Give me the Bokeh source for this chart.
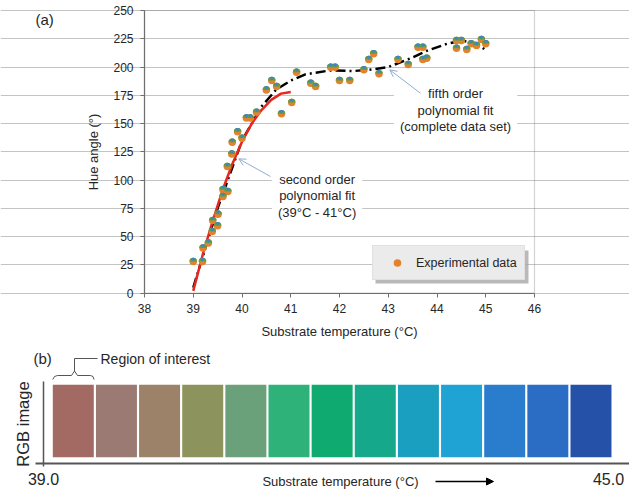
import numpy as np
from bokeh.plotting import figure
from bokeh.models import (Range1d, Label, Arrow, OpenHead, NormalHead, Legend,
                          LegendItem, BoxAnnotation, LinearAxis, Grid, FixedTicker)
from bokeh.layouts import column
from bokeh.embed import file_html
from bokeh.resources import INLINE

# ---------------- data ----------------
exp_temp = [39.0, 39.19, 39.2, 39.31, 39.39, 39.4, 39.5, 39.51, 39.61, 39.61, 39.71,
            39.7, 39.79, 39.8, 39.91, 40.0, 40.09, 40.17, 40.3, 40.5, 40.61, 40.71,
            40.81, 41.02, 41.12, 41.41, 41.51, 41.82, 41.91, 42.0, 42.21, 42.5, 42.6,
            42.7, 42.81, 43.2, 43.41, 43.61, 43.71, 43.71, 43.79, 44.4, 44.5, 44.4,
            44.61, 44.7, 44.81, 44.91, 45.0]
exp_hue = [28, 28, 40, 44.5, 54.5, 64.3, 59.6, 69.9, 85.5, 91.7, 89.9,
           112, 123, 133.5, 142.7, 137, 155, 155, 160, 179.8, 188, 182.8,
           158.6, 168.6, 195.4, 185.7, 182.8, 199.8, 199.8, 188, 188, 197.5, 206.6,
           211.7, 194, 206.6, 202.2, 217.5, 217.5, 206.6, 207.8, 223.4, 223.4, 216.6,
           215.5, 220.5, 219, 224.3, 220.5]

fit2_temp = [39.0, 39.2, 39.4, 39.6, 39.8, 40.0, 40.2, 40.4, 40.6, 40.8, 41.0]
fit2_hue = [2, 35, 64, 91, 114, 134, 150, 162, 171, 176.5, 178]

fit5_temp = [39.0, 39.5, 40.0, 40.4, 40.7, 41.0, 41.3, 41.8, 42.3, 42.7, 43.0,
             43.5, 43.8, 44.2, 44.5, 44.8, 45.0]
fit5_hue = [5, 75, 135, 165, 180, 188, 193.5, 197, 196.5, 198, 200,
            208.5, 214.5, 220.5, 223.5, 221, 215]

x_ticks = [38, 39, 40, 41, 42, 43, 44, 45, 46]
y_ticks = [0, 25, 50, 75, 100, 125, 150, 175, 200, 225, 250]

swatch_colors = ["#a26a62", "#9a7a72", "#9c8268", "#8c935c", "#6aa07a", "#2eb27a",
                 "#0eaa70", "#16a88a", "#1a9fc0", "#1ea3d4", "#2a7ccc", "#2b6cc4",
                 "#2552a8"]
strip_ticks = [39.0, 45.0]
strip_tick_labels = ["39.0", "45.0"]

FONT = "Liberation Sans"
TXT = "#262626"
AX = "#6e6e6e"

# ---------------- panel (a) ----------------
# frame covers the whole canvas; axes are pinned with fixed_location
XPX = 48.75            # px per degC
YPX = 282.7 / 250.0    # px per hue degree
W, H1 = 629, 346
x0 = 38 - 144 / XPX
x1 = 46 + (629 - 534) / XPX
ytop = 250 + 10 / YPX
ybot = -(346 - 292.7) / YPX

p = figure(width=W, height=H1, x_range=Range1d(x0, x1), y_range=Range1d(ybot, ytop),
           x_axis_type=None, y_axis_type=None,
           output_backend="svg", toolbar_location=None, min_border=0)
p.background_fill_color = "white"
p.border_fill_color = "white"
p.outline_line_color = None

p.add_layout(Grid(dimension=1, ticker=FixedTicker(ticks=y_ticks), bounds=(38, 46),
                  grid_line_color="#c4c4c4", grid_line_width=1))

xax = LinearAxis(fixed_location=0, bounds=(38, 46), ticker=FixedTicker(ticks=x_ticks),
                 axis_label="Substrate temperature (°C)")
yax = LinearAxis(fixed_location=38, bounds=(0, 250), ticker=FixedTicker(ticks=y_ticks),
                 axis_label="Hue angle (°)")
for ax in (xax, yax):
    ax.axis_line_color = AX
    ax.axis_line_width = 1.2
    ax.major_tick_line_color = AX
    ax.major_tick_in = 0
    ax.major_tick_out = 4
    ax.minor_tick_line_color = None
    ax.major_label_text_font = FONT
    ax.major_label_text_font_size = "12px"
    ax.major_label_text_color = TXT
    ax.axis_label_text_font = FONT
    ax.axis_label_text_font_size = "13px"
    ax.axis_label_text_font_style = "normal"
    ax.axis_label_text_color = TXT
xax.major_label_standoff = 7
xax.axis_label_standoff = 7
yax.major_label_standoff = 7
yax.axis_label_standoff = 9
p.add_layout(xax, "below")
p.add_layout(yax, "left")

# top and right frame edges
p.add_layout(BoxAnnotation(left=38, right=46, bottom=0, top=250, fill_alpha=0,
                           line_color=AX, line_width=1.2, level="underlay"))

# fits
p.line(fit5_temp, fit5_hue, line_color="black", line_width=2.5, line_dash="10 4 2 4")
p.line(fit2_temp, fit2_hue, line_color="#e8261e", line_width=2.5)

# experimental markers (striped look)
r_pts = p.scatter(exp_temp, exp_hue, marker="circle", size=7.5, fill_color="#e4822c",
                  line_color=None)
r_w1 = p.wedge(exp_temp, exp_hue, radius=3.75, radius_units="screen", start_angle=0,
               end_angle=np.pi, fill_color="#5e9e46", line_color=None)
r_w2 = p.wedge(exp_temp, exp_hue, radius=3.75, radius_units="screen",
               start_angle=np.pi * 0.3, end_angle=np.pi * 0.7, fill_color="#3f86c4",
               line_color=None)

# annotations
lab2 = Label(x=41.54, y=86, text="second order\npolynomial fit\n(39°C - 41°C)",
             text_align="center", text_baseline="middle", text_font=FONT,
             text_font_size="13px", text_color=TXT, text_line_height=1.12,
             background_fill_color="white", padding=6)
lab5 = Label(x=44.38, y=162, text="fifth order\npolynomial fit\n(complete data set)",
             text_align="center", text_baseline="middle", text_font=FONT,
             text_font_size="13px", text_color=TXT, text_line_height=1.12,
             background_fill_color="white", padding=6)
p.add_layout(lab2)
p.add_layout(lab5)

ARC = "#8eaed4"
p.add_layout(Arrow(x_start=40.585, y_start=103.2, x_end=39.934, y_end=118.8,
                   line_color=ARC, line_width=1,
                   end=OpenHead(size=7, line_color=ARC, line_width=1)))
p.add_layout(Arrow(x_start=43.662, y_start=176.8, x_end=43.032, y_end=197.5,
                   line_color=ARC, line_width=1,
                   end=OpenHead(size=7, line_color=ARC, line_width=1)))

p.add_layout(Label(x=38 + (35 - 144) / XPX, y=(292.7 - 18.5) / YPX, text="(a)",
                   text_font=FONT, text_font_size="15px", text_color=TXT,
                   text_baseline="middle", text_align="left"))

# legend with shadow
p.add_layout(BoxAnnotation(left=38 + (375 - 144) / XPX, right=38 + (528 - 144) / XPX,
                           bottom=(292.7 - 283) / YPX, top=(292.7 - 250) / YPX,
                           fill_color="#a8a8a8", fill_alpha=0.8, line_color=None,
                           level="overlay"))
legend = Legend(items=[LegendItem(label="Experimental data", renderers=[r_pts])],
                location=(372, 346 - 280), orientation="vertical",
                background_fill_color="#ebebeb", background_fill_alpha=1,
                border_line_color="#d6d6d6", padding=7, spacing=0,
                glyph_width=34, glyph_height=19, label_standoff=2,
                label_text_font=FONT, label_text_font_size="12.5px",
                label_text_color=TXT, margin=0)
p.add_layout(legend, "center")

# ---------------- panel (b) ----------------
PX_PER_C = 94.17


def tx(px):
    return 39.0 + (px - 43) / PX_PER_C


def ty(py):
    return 492 - py


H2 = 146
p2 = figure(width=W, height=H2, x_range=Range1d(tx(0), tx(629)),
            y_range=Range1d(ty(492), ty(346)), x_axis_type=None, y_axis_type=None,
            output_backend="svg", toolbar_location=None, min_border=0)
p2.outline_line_color = None
p2.background_fill_color = "white"
p2.border_fill_color = "white"

bx = LinearAxis(fixed_location=ty(462.5), bounds=(tx(35), tx(629)),
                ticker=FixedTicker(ticks=strip_ticks),
                major_label_overrides={t: s for t, s in zip(strip_ticks, strip_tick_labels)})
bx.axis_line_color = "#555555"
bx.axis_line_width = 2.2
bx.major_tick_line_color = None
bx.major_tick_out = 0
bx.major_tick_in = 0
bx.minor_tick_line_color = None
bx.major_label_standoff = 10
bx.major_label_text_font = FONT
bx.major_label_text_font_size = "16px"
bx.major_label_text_color = TXT
p2.add_layout(bx, "below")

by = LinearAxis(fixed_location=tx(43), bounds=(ty(466), ty(381)),
                ticker=FixedTicker(ticks=[]), axis_label="RGB image")
by.axis_line_color = "#555555"
by.axis_line_width = 1.5
by.major_tick_line_color = None
by.minor_tick_line_color = None
by.major_tick_out = 0
by.major_label_text_font_size = "0px"
by.axis_label_standoff = 12
by.axis_label_text_font = FONT
by.axis_label_text_font_size = "16.5px"
by.axis_label_text_font_style = "normal"
by.axis_label_text_color = TXT
p2.add_layout(by, "left")

n = len(swatch_colors)
first_left = tx(52.3)
pitch = 43.14 / PX_PER_C
sw_w = 41 / PX_PER_C
lefts = [first_left + i * pitch for i in range(n)]
rights = [l + sw_w for l in lefts]
p2.quad(left=lefts, right=rights, bottom=ty(456.7), top=ty(384.3),
        fill_color=swatch_colors, line_color=None)

# brace + connector for region of interest
brace_px = [(52.3, 379), (54, 376), (57, 375), (71, 375), (74, 370.5), (77, 375),
            (90, 375), (92.5, 376), (93.5, 379)]
p2.line([tx(a) for a, b in brace_px], [ty(b) for a, b in brace_px],
        line_color="#555555", line_width=1)
p2.line([tx(74), tx(74), tx(97)], [ty(370.5), ty(358), ty(358)],
        line_color="#555555", line_width=1)

p2.add_layout(Label(x=tx(33), y=ty(358), text="(b)", text_font=FONT,
                    text_font_size="15px", text_color=TXT, text_baseline="middle"))
p2.add_layout(Label(x=tx(100), y=ty(358), text="Region of interest", text_font=FONT,
                    text_font_size="14px", text_color=TXT, text_baseline="middle"))
p2.add_layout(Label(x=tx(340), y=ty(481), text="Substrate temperature (°C)",
                    text_font=FONT, text_font_size="13px", text_color=TXT,
                    text_baseline="middle", text_align="center"))
p2.add_layout(Arrow(x_start=tx(435), y_start=ty(481), x_end=tx(493), y_end=ty(481),
                    line_color="black", line_width=1.3,
                    end=NormalHead(size=7, fill_color="black", line_color="black")))

layout = column(p, p2, spacing=0)
open("out.html", "w").write(file_html(layout, INLINE))
